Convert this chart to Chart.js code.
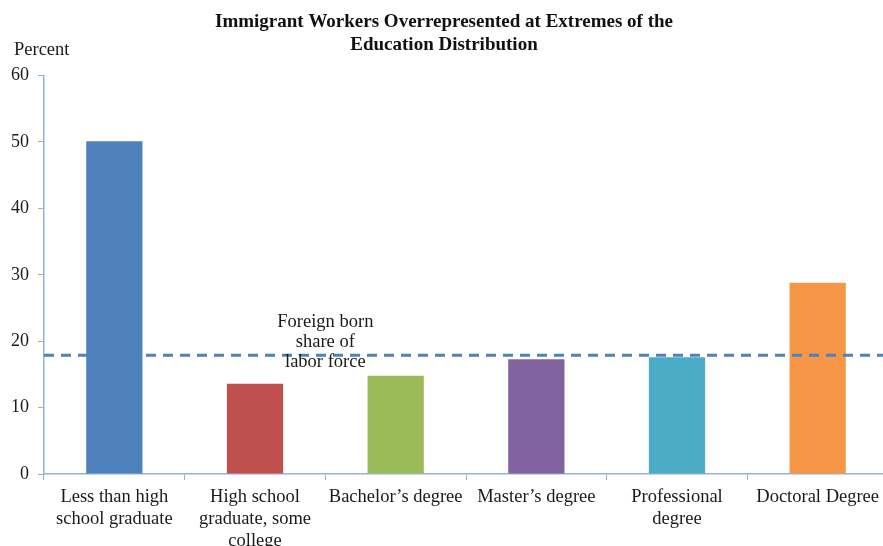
<!DOCTYPE html>
<html>
<head>
<meta charset="utf-8">
<title>Immigrant Workers Overrepresented at Extremes of the Education Distribution</title>
<script src="https://cdn.jsdelivr.net/npm/chart.js@4.4.1/dist/chart.umd.min.js"></script>
<style>
  body { margin: 0; background: #fff; overflow: hidden; }
  #wrap { width: 888px; height: 546px; position: relative; }
</style>
</head>
<body>
<div id="wrap"><canvas id="eduChart"></canvas></div>
<script>
// Data
const categories = [
    ['Less than high', 'school graduate'],
    ['High school', 'graduate, some', 'college'],
    'Bachelor’s degree',
    'Master’s degree',
    ['Professional', 'degree'],
    'Doctoral Degree'
];
const immigrantShare = [50.1, 13.6, 14.8, 17.3, 17.6, 28.8];
const laborForceShare = 17.9;   // dashed reference line
const barColors = ['#4f81bd', '#c0504d', '#9bbb59', '#8064a2', '#4bacc6', '#f79646'];
const yTicks = [0, 10, 20, 30, 40, 50, 60];
const noteLines = ['Foreign born', 'share of', 'labor force'];

const serif = "'Liberation Serif', 'Times New Roman', serif";
const axisColor = '#93b3d2';

// Draws the dashed "foreign born share" line, its note and the "Percent" label
const referenceLine = {
    id: 'referenceLine',
    afterDatasetsDraw(chart) {
        const { ctx, chartArea, scales } = chart;
        const y = scales.y.getPixelForValue(laborForceShare);
        ctx.save();
        ctx.strokeStyle = '#4f81bd';
        ctx.lineWidth = 3;
        ctx.setLineDash([10, 7]);
        ctx.beginPath();
        ctx.moveTo(chartArea.left, y);
        ctx.lineTo(chartArea.right, y);
        ctx.stroke();

        // note sits on the boundary between the 2nd and 3rd category
        ctx.setLineDash([]);
        ctx.fillStyle = '#1a1a1a';
        ctx.font = '18.5px ' + serif;
        ctx.textAlign = 'center';
        ctx.textBaseline = 'middle';
        const x = scales.x.getPixelForValue(1.5);
        noteLines.forEach((line, i) => {
            ctx.fillText(line, x, y - 33 + i * 20);
        });

        ctx.textAlign = 'left';
        ctx.font = '18.5px ' + serif;
        ctx.fillText('Percent', 14, 50);
        ctx.restore();
    }
};

const ctx = document.getElementById('eduChart').getContext('2d');
const eduChart = new Chart(ctx, {
    type: 'bar',
    data: {
        labels: categories,
        datasets: [{
            data: immigrantShare,
            backgroundColor: barColors,
            borderWidth: 0,
            categoryPercentage: 1,
            barPercentage: 0.4
        }]
    },
    options: {
        responsive: true,
        maintainAspectRatio: false,
        animation: false,
        layout: { padding: 0 },
        plugins: {
            legend: { display: false },
            tooltip: { enabled: false },
            title: {
                display: true,
                text: ['Immigrant Workers Overrepresented at Extremes of the', 'Education Distribution'],
                color: '#111',
                font: { family: serif, size: 19, weight: 'bold', lineHeight: 1.2 },
                padding: { top: 11, bottom: 19 }
            }
        },
        scales: {
            x: {
                grid: {
                    display: true,
                    offset: true,
                    drawOnChartArea: false,
                    tickLength: 6,
                    color: axisColor
                },
                border: { color: axisColor, width: 1.5 },
                ticks: {
                    color: '#1a1a1a',
                    maxRotation: 0,
                    autoSkip: false,
                    padding: 6,
                    font: { family: serif, size: 18.5, lineHeight: 1.2 }
                },
                afterFit: (scale) => { scale.height = 72; }
            },
            y: {
                min: 0,
                max: 60,
                afterBuildTicks: (scale) => {
                    scale.ticks = yTicks.map(v => ({ value: v }));
                },
                grid: {
                    display: true,
                    drawOnChartArea: false,
                    tickLength: 6,
                    color: axisColor
                },
                border: { color: axisColor, width: 1.5 },
                ticks: {
                    color: '#1a1a1a',
                    padding: 9,
                    font: { family: serif, size: 18 }
                },
                afterFit: (scale) => { scale.width = 44; }
            }
        }
    },
    plugins: [referenceLine]
});
</script>
</body>
</html>
